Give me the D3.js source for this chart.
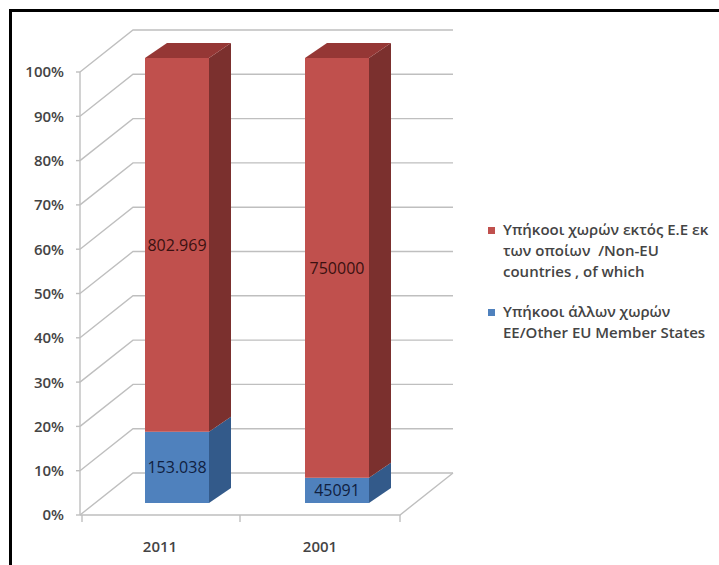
<!DOCTYPE html>
<html>
<head>
<meta charset="utf-8">
<script src="https://cdn.jsdelivr.net/npm/d3@7"></script>
<style>
  html, body { margin: 0; padding: 0; background: #fff; }
  svg { display: block; }
  text { font-family: "Open Sans", "Liberation Sans", Arial, sans-serif; }
</style>
</head>
<body>
<svg id="chart" width="719" height="565"></svg>
<script>
// ---- data ----
const categories = ["2011", "2001"];
const nonEU = [802969, 750000];
const otherEU = [153038, 45091];
const nonEULabels = ["802.969", "750000"];
const otherEULabels = ["153.038", "45091"];
const yTicks = [0, 0.1, 0.2, 0.3, 0.4, 0.5, 0.6, 0.7, 0.8, 0.9, 1.0];
const legendNonEU = ["Υπήκοοι χωρών εκτός Ε.Ε εκ", "των οποίων  /Non-EU", "countries , of which"];
const legendOtherEU = ["Υπήκοοι άλλων χωρών", "EE/Other EU Member States"];

// ---- layout ----
const svg = d3.select("#chart");
const x0 = 80, x1 = 400;
const wallDX = 53, wallDY = -42;      // back wall offset
const barOffX = 17;                   // bar front plane offset
const depthDX = 22, depthDY = -15;    // bar depth

const y = d3.scaleLinear().domain([0, 1]).range([515, 72]);
const yBar = d3.scaleLinear().domain([0, 1]).range([503, 58]);
const x = d3.scaleBand().domain(categories).range([x0, x1]).paddingInner(0.6).paddingOuter(0.3);

// frame
svg.append("path").attr("d", "M10.5,580 L10.5,10.5 L730,10.5")
  .attr("fill", "none").attr("stroke", "#000").attr("stroke-width", 3);

const grid = "#bfbfbf";
const g = svg.append("g");

// gridlines: side wall diagonal + back wall horizontal
yTicks.forEach(t => {
  const yy = y(t);
  g.append("path")
    .attr("d", `M${x0},${yy} L${x0 + wallDX},${yy + wallDY} L${x1 + wallDX},${yy + wallDY}`)
    .attr("fill", "none").attr("stroke", grid).attr("stroke-width", 1.4);
});
// floor
g.append("path")
  .attr("d", `M${x0},${y(0)} L${x1},${y(0)} L${x1 + wallDX},${y(0) + wallDY}`)
  .attr("fill", "none").attr("stroke", grid).attr("stroke-width", 1.4);
// vertical axis
g.append("line").attr("x1", x0).attr("x2", x0).attr("y1", y(1)).attr("y2", y(0))
  .attr("stroke", grid).attr("stroke-width", 1.4);
yTicks.forEach(t => {
  g.append("line").attr("x1", x0 - 4).attr("x2", x0).attr("y1", y(t)).attr("y2", y(t))
    .attr("stroke", grid).attr("stroke-width", 1.4);
});
// x ticks
[x0 + 2, (x0 + x1) / 2, x1].forEach(xx => {
  g.append("line").attr("x1", xx).attr("x2", xx).attr("y1", y(0)).attr("y2", y(0) + 7)
    .attr("stroke", grid).attr("stroke-width", 1.4);
});

// y labels
svg.append("g").selectAll("text").data(yTicks).join("text")
  .attr("x", 64).attr("y", d => y(d)).attr("dy", "0.36em")
  .attr("text-anchor", "end").attr("font-size", 15).attr("font-weight", 600).attr("fill", "#444")
  .text(d => d3.format(".0%")(d));

// x labels
svg.append("g").selectAll("text").data(categories).join("text")
  .attr("x", d => x(d) + x.bandwidth() / 2).attr("y", 552)
  .attr("text-anchor", "middle").attr("font-size", 15).attr("font-weight", 600).attr("fill", "#444")
  .text(d => d);

// bars
const colors = {
  red: { front: "#c0504d", side: "#7b302e", top: "#953735" },
  blue: { front: "#4f81bd", side: "#335a8a", top: "#3f6aa0" }
};
const bars = svg.append("g");
categories.forEach((c, i) => {
  const total = nonEU[i] + otherEU[i];
  const segs = [
    { v0: 0, v1: otherEU[i] / total, col: colors.blue, label: otherEULabels[i] },
    { v0: otherEU[i] / total, v1: 1, col: colors.red, label: nonEULabels[i] }
  ];
  const bx = x(c) + barOffX, bw = x.bandwidth();
  segs.forEach((s, k) => {
    const yt = yBar(s.v1), yb = yBar(s.v0);
    // side
    bars.append("path")
      .attr("d", `M${bx + bw},${yb} L${bx + bw + depthDX},${yb + depthDY} L${bx + bw + depthDX},${yt + depthDY} L${bx + bw},${yt} Z`)
      .attr("fill", s.col.side);
    // front
    bars.append("rect").attr("x", bx).attr("y", yt).attr("width", bw).attr("height", yb - yt)
      .attr("fill", s.col.front);
    if (k === segs.length - 1) {
      bars.append("path")
        .attr("d", `M${bx},${yt} L${bx + depthDX},${yt + depthDY} L${bx + bw + depthDX},${yt + depthDY} L${bx + bw},${yt} Z`)
        .attr("fill", s.col.top);
    }
    bars.append("text")
      .attr("x", bx + bw / 2).attr("y", (yt + yb) / 2).attr("dy", "0.36em")
      .attr("text-anchor", "middle").attr("font-size", 16).attr("font-weight", 500)
      .attr("fill", k === 0 ? "#102040" : "#3a1010")
      .text(s.label);
  });
});

// legend
const leg = svg.append("g");
function legendItem(yTop, color, lines) {
  leg.append("rect").attr("x", 488).attr("y", yTop - 8).attr("width", 7).attr("height", 7).attr("fill", color);
  lines.forEach((l, j) => {
    leg.append("text").attr("x", 503).attr("y", yTop + j * 21)
      .attr("font-size", 15).attr("font-weight", 600).attr("fill", "#444")
      .attr("xml:space", "preserve").style("white-space", "pre")
      .text(l);
  });
}
legendItem(235, colors.red.front, legendNonEU);
legendItem(317, colors.blue.front, legendOtherEU);
</script>
</body>
</html>
